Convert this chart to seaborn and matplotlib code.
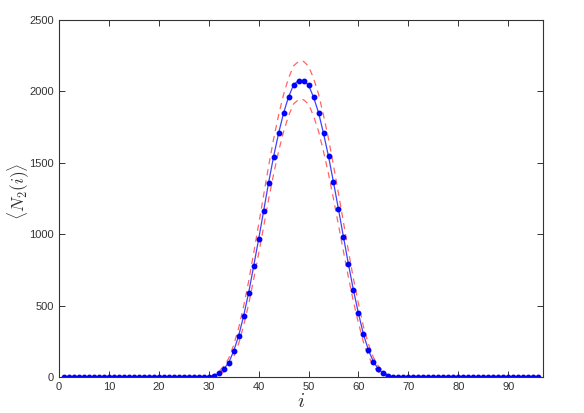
import numpy as np
import pandas as pd
import seaborn as sns
import matplotlib
matplotlib.use('Agg')
import matplotlib.pyplot as plt

# 값 (그림에서 읽어낸 추정치)
i_vals = list(range(1, 97))
base_left = [3] * 30      # i = 1..30
base_right = [3] * 30     # i = 67..96
peak_mean = [9, 26, 56, 100, 182, 289, 429, 590, 775, 965, 1162, 1361, 1543, 1706,
             1848, 1961, 2045, 2075, 2075, 2043, 1959, 1851, 1705, 1545, 1363, 1174,
             980, 789, 607, 446, 299, 189, 107, 56, 26, 8]
peak_upper = [14, 38, 76, 130, 224, 344, 497, 670, 867, 1067, 1272, 1478, 1666, 1833,
              1978, 2093, 2178, 2209, 2209, 2176, 2091, 1981, 1832, 1668, 1480, 1284,
              1082, 881, 687, 514, 354, 231, 137, 76, 38, 13]
peak_lower = [4, 14, 36, 70, 140, 234, 361, 510, 683, 863, 1052, 1244, 1420, 1579,
              1718, 1829, 1912, 1941, 1941, 1910, 1827, 1721, 1578, 1422, 1246, 1064,
              878, 697, 527, 378, 244, 147, 77, 36, 14, 3]

df = pd.DataFrame({
    'i': i_vals,
    'mean': base_left + peak_mean + base_right,
    'upper': base_left + peak_upper + base_right,
    'lower': base_left + peak_lower + base_right,
})

sns.set_style('white')
plt.rcParams['font.family'] = ['Liberation Sans', 'DejaVu Sans']
plt.rcParams['mathtext.fontset'] = 'cm'

fig = plt.figure(figsize=(5.84, 4.13), dpi=100)
ax = fig.add_axes([0.101, 0.087, 0.829, 0.865])

# 평균 +- 범위 (빨간 점선)
sns.lineplot(data=df, x='i', y='upper', ax=ax, color='#ff3030', lw=0.9,
             linestyle=(0, (5, 4)), alpha=0.75)
sns.lineplot(data=df, x='i', y='lower', ax=ax, color='#ff3030', lw=0.9,
             linestyle=(0, (5, 4)), alpha=0.75)
# 평균 (파란 선 + 점)
sns.lineplot(data=df, x='i', y='mean', ax=ax, color='#4040ff', lw=0.9)
ax.plot(df['i'], df['mean'], ls='none', marker='o', ms=3.2, color='#0000ff',
        mec='#0000ff')

ax.set_xlim(0, 97)
ax.set_ylim(0, 2500)
ax.set_xticks(range(0, 91, 10))
ax.set_yticks(range(0, 2501, 500))
ax.tick_params(direction='in', length=4, width=0.7, labelsize=8,
               labelcolor='#333333', color='#333333', top=True, right=True,
               bottom=True, left=True)
for sp in ax.spines.values():
    sp.set_color('#333333')
    sp.set_linewidth(0.8)

ax.set_xlabel(r'$i$', fontsize=15, labelpad=0, color='#333333')
ax.set_ylabel(r'$\langle N_2(i)\rangle$', fontsize=12.5, color='#333333')
ax.yaxis.set_label_coords(-0.055, 0.52)

plt.savefig('out.png', dpi=100)
